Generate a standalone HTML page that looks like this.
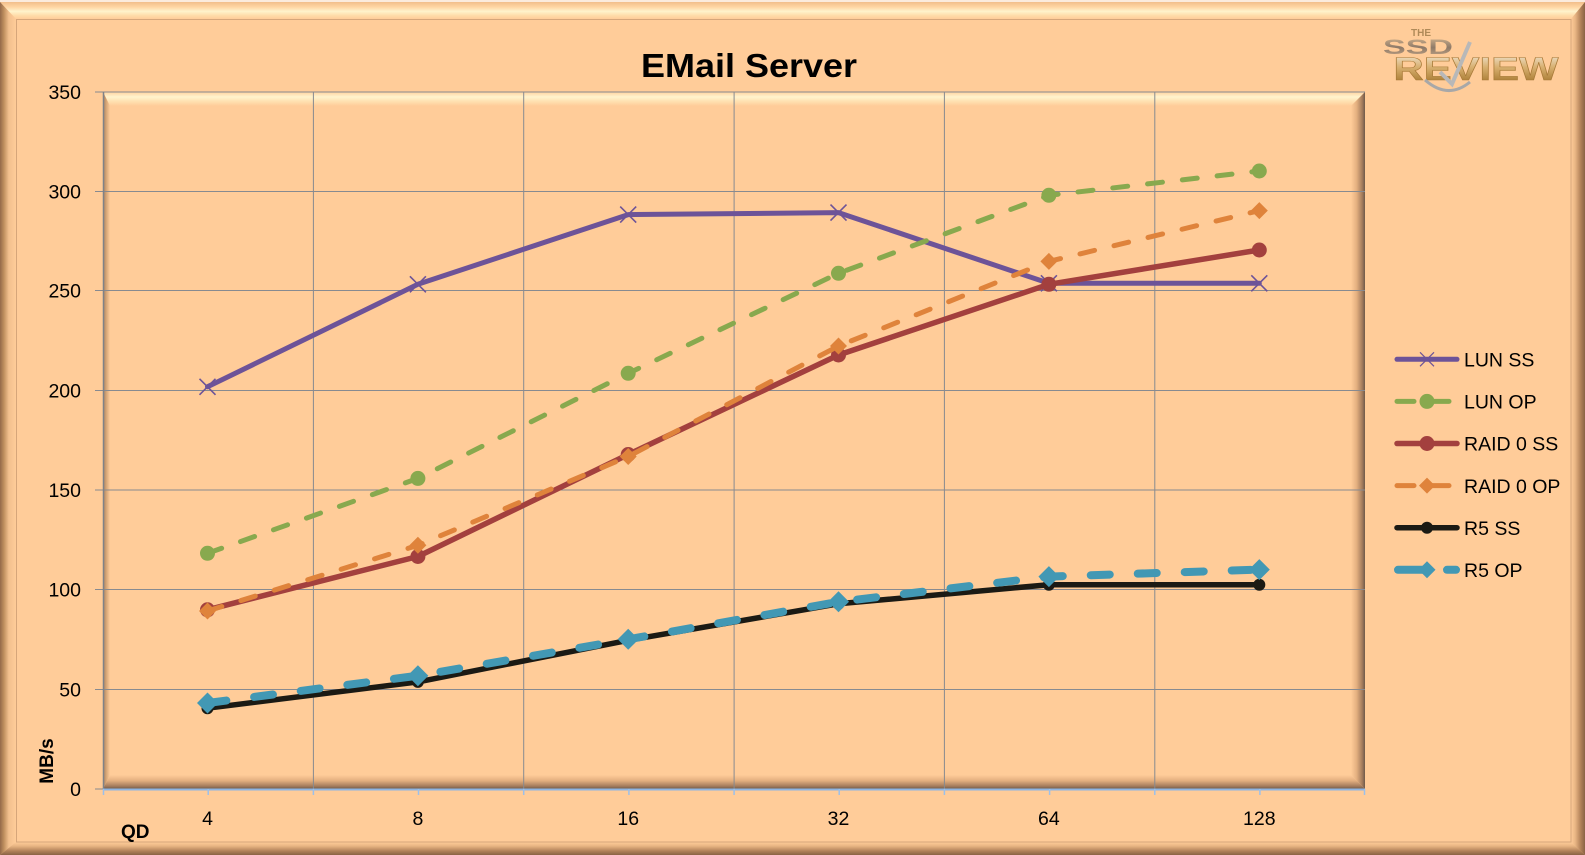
<!DOCTYPE html>
<html><head><meta charset="utf-8"><style>
html,body{margin:0;padding:0;background:#FFCC99;}
svg{display:block;}
text{font-family:"Liberation Sans",Arial,sans-serif;}
</style></head><body>
<svg width="1585" height="855" viewBox="0 0 1585 855" xmlns="http://www.w3.org/2000/svg">
<defs>
<linearGradient id="gTop" x1="0" y1="0" x2="0" y2="1">
<stop offset="0" stop-color="#F2BE8A"/><stop offset="0.3" stop-color="#FFD6A4"/><stop offset="0.55" stop-color="#FFF3CC"/><stop offset="0.8" stop-color="#FFDCA9"/><stop offset="1" stop-color="#FFCC99"/>
</linearGradient>
<linearGradient id="gLeft" x1="0" y1="0" x2="1" y2="0">
<stop offset="0" stop-color="#94694A"/><stop offset="0.25" stop-color="#C0905F"/><stop offset="0.55" stop-color="#F2C08E"/><stop offset="1" stop-color="#FFCC99"/>
</linearGradient>
<linearGradient id="gRight" x1="0" y1="0" x2="1" y2="0">
<stop offset="0" stop-color="#FFCC99"/><stop offset="0.3" stop-color="#E9B684"/><stop offset="0.7" stop-color="#B08058"/><stop offset="1" stop-color="#8A6244"/>
</linearGradient>
<linearGradient id="gBot" x1="0" y1="0" x2="0" y2="1">
<stop offset="0" stop-color="#FFCC99"/><stop offset="0.3" stop-color="#E9B684"/><stop offset="0.7" stop-color="#B08058"/><stop offset="1" stop-color="#8A6244"/>
</linearGradient>
<linearGradient id="pTop" x1="0" y1="0" x2="0" y2="1">
<stop offset="0" stop-color="#FFD3A0"/><stop offset="0.35" stop-color="#FFF4CE"/><stop offset="0.65" stop-color="#FFE2B2"/><stop offset="1" stop-color="#FFCC99"/>
</linearGradient>
<linearGradient id="pLeft" x1="0" y1="0" x2="1" y2="0">
<stop offset="0" stop-color="#A88060"/><stop offset="0.5" stop-color="#D8A878"/><stop offset="1" stop-color="#FFCC99"/>
</linearGradient>
<linearGradient id="pRight" x1="0" y1="0" x2="1" y2="0">
<stop offset="0" stop-color="#FFCC99"/><stop offset="0.4" stop-color="#E4B080"/><stop offset="0.8" stop-color="#A47C5C"/><stop offset="1" stop-color="#6E5A4A"/>
</linearGradient>
<linearGradient id="pBot" x1="0" y1="0" x2="0" y2="1">
<stop offset="0" stop-color="#FFCC99"/><stop offset="0.4" stop-color="#E4B080"/><stop offset="0.8" stop-color="#A47C5C"/><stop offset="1" stop-color="#6E5A4A"/>
</linearGradient>
<linearGradient id="logoG" x1="0" y1="0" x2="0" y2="1">
<stop offset="0" stop-color="#F4EEE4"/><stop offset="0.45" stop-color="#D8B070"/><stop offset="1" stop-color="#9A6A20"/>
</linearGradient>
<linearGradient id="logoS" x1="0" y1="0" x2="0" y2="1">
<stop offset="0" stop-color="#D8B890"/><stop offset="0.5" stop-color="#8E7A68"/><stop offset="1" stop-color="#C8A888"/>
</linearGradient>
</defs>

<!-- background -->
<rect x="0" y="0" width="1585" height="855" fill="#FFCC99"/>
<rect x="0" y="0" width="1585" height="2" fill="#FBEBDD"/>
<!-- outer frame bevel -->
<polygon points="0,2 1585,2 1571,19 16,19" fill="url(#gTop)"/>
<polygon points="0,2 16,19 16,842 0,855" fill="url(#gLeft)"/>
<polygon points="1585,2 1585,855 1571,842 1571,19" fill="url(#gRight)"/>
<polygon points="0,855 16,842 1571,842 1585,855" fill="url(#gBot)"/>
<rect x="16.5" y="19.5" width="1554.5" height="822.5" fill="none" stroke="#D6A67A" stroke-width="1"/>

<!-- plot area bevel -->
<polygon points="103,92 1365,92 1351,106 110,106" fill="url(#pTop)"/>
<polygon points="103,92 110,106 110,775 103,789" fill="url(#pLeft)"/>
<polygon points="1365,92 1365,789 1351,775 1351,106" fill="url(#pRight)"/>
<polygon points="103,789 110,775 1351,775 1365,789" fill="url(#pBot)"/>

<!-- gridlines horizontal -->
<g stroke="#878A90" stroke-width="1">
<line x1="95" y1="92" x2="1365" y2="92"/>
<line x1="95" y1="191.5" x2="1365" y2="191.5"/>
<line x1="95" y1="290.5" x2="1365" y2="290.5"/>
<line x1="95" y1="390.5" x2="1365" y2="390.5"/>
<line x1="95" y1="490" x2="1365" y2="490"/>
<line x1="95" y1="589.5" x2="1365" y2="589.5"/>
<line x1="95" y1="689.5" x2="1365" y2="689.5"/>
<line x1="95" y1="789" x2="103" y2="789"/>
<!-- vertical -->
<line x1="313.4" y1="92" x2="313.4" y2="789"/>
<line x1="523.7" y1="92" x2="523.7" y2="789"/>
<line x1="734.1" y1="92" x2="734.1" y2="789"/>
<line x1="944.4" y1="92" x2="944.4" y2="789"/>
<line x1="1154.8" y1="92" x2="1154.8" y2="789"/>
<line x1="103.5" y1="92" x2="103.5" y2="789" stroke="#7F8288" stroke-width="1.5"/>
</g>

<!-- x axis -->
<line x1="103" y1="789.5" x2="1365" y2="789.5" stroke="#8DB4E2" stroke-width="2"/>
<g stroke="#9CC0EA" stroke-width="1.5">
<line x1="103.5" y1="789" x2="103.5" y2="795"/>
<line x1="208.2" y1="789" x2="208.2" y2="795"/>
<line x1="313.4" y1="789" x2="313.4" y2="795"/>
<line x1="418.5" y1="789" x2="418.5" y2="795"/>
<line x1="523.7" y1="789" x2="523.7" y2="795"/>
<line x1="628.9" y1="789" x2="628.9" y2="795"/>
<line x1="734.1" y1="789" x2="734.1" y2="795"/>
<line x1="839.2" y1="789" x2="839.2" y2="795"/>
<line x1="944.4" y1="789" x2="944.4" y2="795"/>
<line x1="1049.6" y1="789" x2="1049.6" y2="795"/>
<line x1="1154.8" y1="789" x2="1154.8" y2="795"/>
<line x1="1259.9" y1="789" x2="1259.9" y2="795"/>
<line x1="1364.5" y1="789" x2="1364.5" y2="795"/>
</g>

<!-- y labels -->
<g font-size="19.5" fill="#000" text-anchor="end">
<text x="81" y="99">350</text>
<text x="81" y="198.5">300</text>
<text x="81" y="297.5">250</text>
<text x="81" y="397.5">200</text>
<text x="81" y="497">150</text>
<text x="81" y="596.5">100</text>
<text x="81" y="696.5">50</text>
<text x="81" y="796">0</text>
</g>
<!-- x labels -->
<g font-size="19.5" fill="#000" text-anchor="middle">
<text x="207.5" y="825">4</text>
<text x="417.9" y="825">8</text>
<text x="628.2" y="825">16</text>
<text x="838.5" y="825">32</text>
<text x="1048.9" y="825">64</text>
<text x="1259.3" y="825">128</text>
</g>
<text x="121" y="838" font-size="19" font-weight="bold" fill="#000">QD</text>
<text transform="translate(53,761) rotate(-90)" font-size="19" font-weight="bold" fill="#000" text-anchor="middle">MB/s</text>

<!-- title -->
<text x="749" y="77" font-size="33" font-weight="bold" fill="#000" text-anchor="middle" textLength="216" lengthAdjust="spacingAndGlyphs">EMail Server</text>

<!-- logo -->
<g>
<text x="1421" y="36" font-size="10" font-weight="bold" fill="#B08A58" text-anchor="middle">THE</text>
<text x="1418" y="54" font-size="21" font-weight="bold" fill="url(#logoS)" text-anchor="middle" textLength="70" lengthAdjust="spacingAndGlyphs">SSD</text>
<text x="1476" y="80" font-size="32" font-weight="bold" fill="url(#logoG)" stroke="#A87A38" stroke-width="0.6" text-anchor="middle" textLength="165" lengthAdjust="spacingAndGlyphs">REVIEW</text>
<path d="M1440,72 L1452,84 L1470,42" fill="none" stroke="#B8B8B8" stroke-width="4"/>
<path d="M1425,80 Q1448,100 1470,82" fill="none" stroke="#A8A8A8" stroke-width="3"/>
</g>

<!-- series: LUN SS -->
<polyline points="207.5,386.8 417.9,284.3 628.2,214.6 838.5,212.6 1048.9,283.3 1259.3,283.3" fill="none" stroke="#6D5398" stroke-width="5" stroke-linejoin="round" stroke-linecap="round"/>
<g stroke="#6D5398" stroke-width="1.6">
<path d="M199.5,378.8 L215.5,394.8 M215.5,378.8 L199.5,394.8"/>
<path d="M409.9,276.3 L425.9,292.3 M425.9,276.3 L409.9,292.3"/>
<path d="M620.2,206.6 L636.2,222.6 M636.2,206.6 L620.2,222.6"/>
<path d="M830.5,204.6 L846.5,220.6 M846.5,204.6 L830.5,220.6"/>
<path d="M1040.9,275.3 L1056.9,291.3 M1056.9,275.3 L1040.9,291.3"/>
<path d="M1251.3,275.3 L1267.3,291.3 M1267.3,275.3 L1251.3,291.3"/>
</g>

<!-- LUN OP -->
<polyline points="207.5,553.3 417.9,478.4 628.2,373.3 838.5,273.3 1048.9,195.3 1259.3,171" fill="none" stroke="#88A94E" stroke-width="5" stroke-dasharray="15 20" stroke-linecap="round" stroke-linejoin="round"/>
<g fill="#88A94E">
<circle cx="207.5" cy="553.3" r="7.5"/><circle cx="417.9" cy="478.4" r="7.5"/><circle cx="628.2" cy="373.3" r="7.5"/>
<circle cx="838.5" cy="273.3" r="7.5"/><circle cx="1048.9" cy="195.3" r="7.5"/><circle cx="1259.3" cy="171" r="7.5"/>
</g>

<!-- RAID 0 SS -->
<polyline points="207.5,609.8 417.9,556.5 628.2,454.5 838.5,355 1048.9,284.3 1259.3,250" fill="none" stroke="#A3403E" stroke-width="5.5" stroke-linejoin="round" stroke-linecap="round"/>
<g fill="#A3403E">
<circle cx="207.5" cy="609.8" r="7.5"/><circle cx="417.9" cy="556.5" r="7.5"/><circle cx="628.2" cy="454.5" r="7.5"/>
<circle cx="838.5" cy="355" r="7.5"/><circle cx="1048.9" cy="284.3" r="7.5"/><circle cx="1259.3" cy="250" r="7.5"/>
</g>

<!-- RAID 0 OP -->
<polyline points="207.5,611 417.9,545.3 628.2,456.5 838.5,346 1048.9,261.4 1259.3,210.6" fill="none" stroke="#DF833B" stroke-width="5" stroke-dasharray="15 20" stroke-linecap="round" stroke-linejoin="round"/>
<g fill="#DF833B">
<path d="M207.5,602.5 L216,611 L207.5,619.5 L199,611 Z"/>
<path d="M417.9,536.8 L426.4,545.3 L417.9,553.8 L409.4,545.3 Z"/>
<path d="M628.2,448 L636.7,456.5 L628.2,465 L619.7,456.5 Z"/>
<path d="M838.5,337.5 L847,346 L838.5,354.5 L830,346 Z"/>
<path d="M1048.9,252.9 L1057.4,261.4 L1048.9,269.9 L1040.4,261.4 Z"/>
<path d="M1259.3,202.1 L1267.8,210.6 L1259.3,219.1 L1250.8,210.6 Z"/>
</g>

<!-- R5 SS -->
<polyline points="207.5,708.2 417.9,681.9 628.2,640.3 838.5,603.8 1048.9,584.7 1259.3,584.7" fill="none" stroke="#1B1A14" stroke-width="5.5" stroke-linejoin="round" stroke-linecap="round"/>
<g fill="#1B1A14">
<circle cx="207.5" cy="708.2" r="6"/><circle cx="417.9" cy="681.9" r="6"/><circle cx="628.2" cy="640.3" r="6"/>
<circle cx="838.5" cy="603.8" r="6"/><circle cx="1048.9" cy="584.7" r="6"/><circle cx="1259.3" cy="584.7" r="6"/>
</g>

<!-- R5 OP -->
<polyline points="207.5,703 417.9,675.7 628.2,639.3 838.5,601.8 1048.9,576.6 1259.3,569.6" fill="none" stroke="#4298B4" stroke-width="8" stroke-dasharray="19 28" stroke-linecap="round" stroke-linejoin="round"/>
<g fill="#4298B4">
<path d="M207.5,692.5 L218,703 L207.5,713.5 L197,703 Z"/>
<path d="M417.9,665.2 L428.4,675.7 L417.9,686.2 L407.4,675.7 Z"/>
<path d="M628.2,628.8 L638.7,639.3 L628.2,649.8 L617.7,639.3 Z"/>
<path d="M838.5,591.3 L849,601.8 L838.5,612.3 L828,601.8 Z"/>
<path d="M1048.9,566.1 L1059.4,576.6 L1048.9,587.1 L1038.4,576.6 Z"/>
<path d="M1259.3,559.1 L1269.8,569.6 L1259.3,580.1 L1248.8,569.6 Z"/>
</g>

<!-- legend -->
<g>
<line x1="1397" y1="359.3" x2="1457" y2="359.3" stroke="#6D5398" stroke-width="5" stroke-linecap="round"/>
<path d="M1420,352.3 L1434,366.3 M1434,352.3 L1420,366.3" stroke="#6D5398" stroke-width="1.2"/>
<text x="1464" y="366.5" font-size="19.5" fill="#000">LUN SS</text>

<line x1="1397" y1="401.4" x2="1414" y2="401.4" stroke="#88A94E" stroke-width="5" stroke-linecap="round"/>
<line x1="1427" y1="401.4" x2="1449" y2="401.4" stroke="#88A94E" stroke-width="5" stroke-linecap="round"/>
<circle cx="1427" cy="401.4" r="7.5" fill="#88A94E"/>
<text x="1464" y="408.6" font-size="19.5" fill="#000">LUN OP</text>

<line x1="1397" y1="443.5" x2="1457" y2="443.5" stroke="#A3403E" stroke-width="5.5" stroke-linecap="round"/>
<circle cx="1427" cy="443.5" r="7.5" fill="#A3403E"/>
<text x="1464" y="450.7" font-size="19.5" fill="#000">RAID 0 SS</text>

<line x1="1397" y1="485.6" x2="1414" y2="485.6" stroke="#DF833B" stroke-width="5" stroke-linecap="round"/>
<line x1="1427" y1="485.6" x2="1449" y2="485.6" stroke="#DF833B" stroke-width="5" stroke-linecap="round"/>
<path d="M1427,477.6 L1435,485.6 L1427,493.6 L1419,485.6 Z" fill="#DF833B"/>
<text x="1464" y="492.8" font-size="19.5" fill="#000">RAID 0 OP</text>

<line x1="1397" y1="527.7" x2="1457" y2="527.7" stroke="#1B1A14" stroke-width="5.5" stroke-linecap="round"/>
<circle cx="1427" cy="527.7" r="6" fill="#1B1A14"/>
<text x="1464" y="534.9" font-size="19.5" fill="#000">R5 SS</text>

<line x1="1398" y1="569.8" x2="1424" y2="569.8" stroke="#4298B4" stroke-width="8" stroke-linecap="round"/>
<line x1="1447" y1="569.8" x2="1456" y2="569.8" stroke="#4298B4" stroke-width="8" stroke-linecap="round"/>
<path d="M1427,561.3 L1435.5,569.8 L1427,578.3 L1418.5,569.8 Z" fill="#4298B4"/>
<text x="1464" y="577" font-size="19.5" fill="#000">R5 OP</text>
</g>
</svg>
</body></html>
